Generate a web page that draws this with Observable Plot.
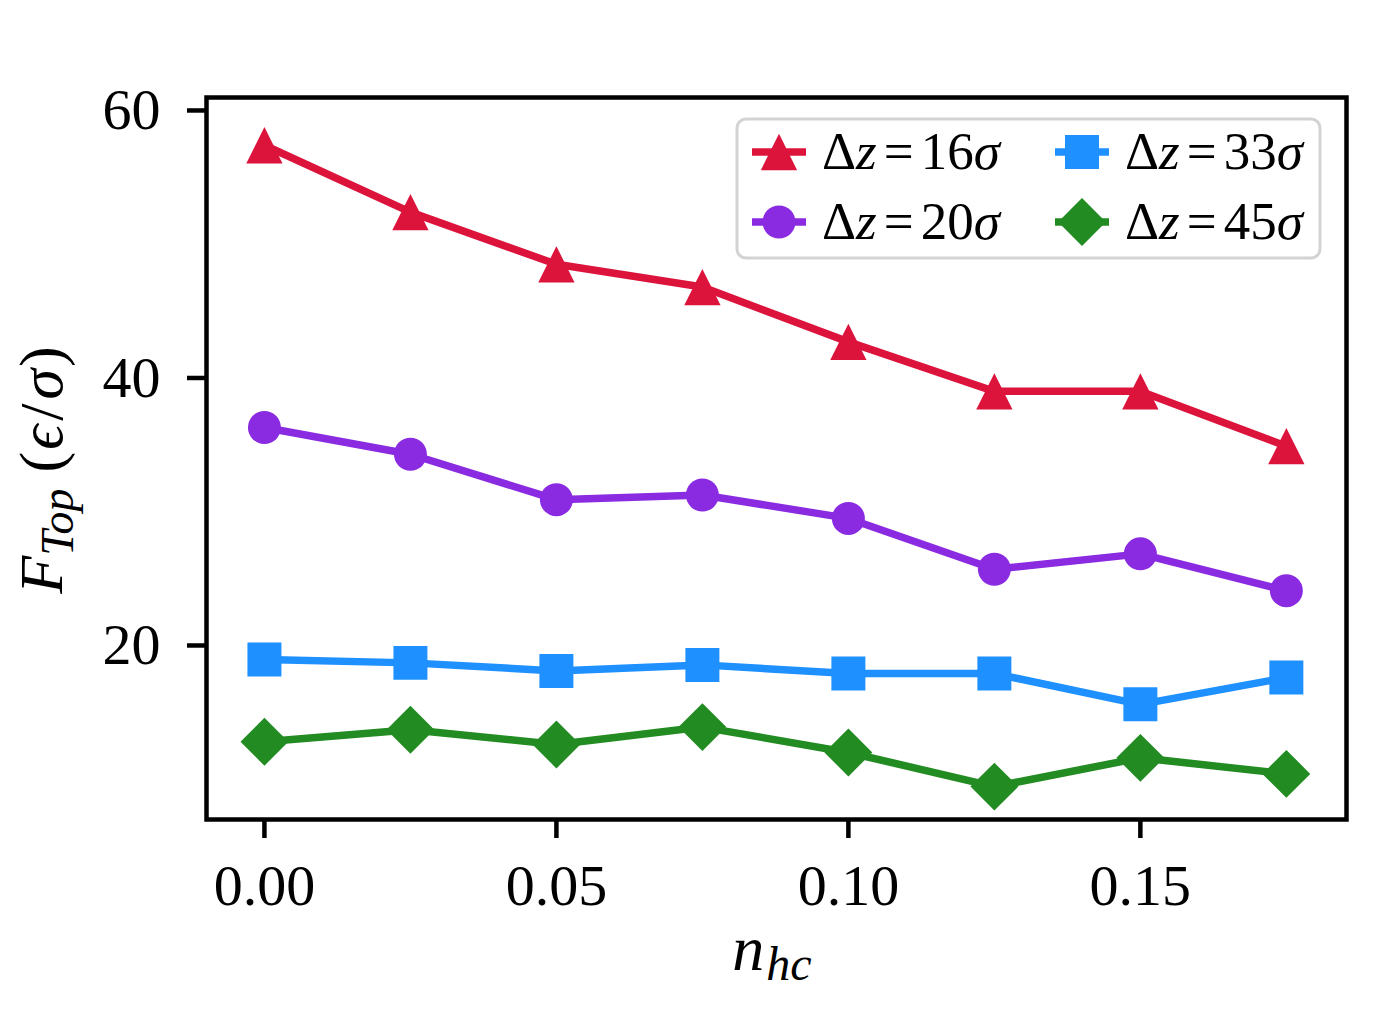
<!DOCTYPE html>
<html><head><meta charset="utf-8">
<script src="https://cdn.jsdelivr.net/npm/d3@7"></script>
<script src="https://cdn.jsdelivr.net/npm/@observablehq/plot@0.6"></script>
<style>
body{margin:0;background:#fff}
#chart{position:relative;width:1379px;height:1014px}
</style>
</head><body><div id="chart"></div>
<script>
// ---- data ----
const nhc = [0, 0.025, 0.05, 0.075, 0.10, 0.125, 0.15, 0.175];
const seriesLabels = ["16", "20", "33", "45"];
const dz16 = [57.4, 52.4, 48.5, 46.8, 42.7, 39.0, 39.0, 34.9];
const dz20 = [36.3, 34.3, 30.9, 31.25, 29.5, 25.7, 26.85, 24.1];
const dz33 = [18.95, 18.7, 18.1, 18.55, 17.9, 17.9, 15.6, 17.6];
const dz45 = [12.8, 13.7, 12.6, 13.9, 12.0, 9.45, 11.6, 10.4];
const xTicks = [0, 0.05, 0.10, 0.15];
const yTicks = [20, 40, 60];
const colors = ["#DC143C", "#8A2BE2", "#1E90FF", "#228B22"];

// ---- marker shapes (matplotlib-like) ----
const rad = s => Math.sqrt(s / Math.PI);
const triSym = {draw(c, s){ const h = rad(s)*1.1; c.moveTo(0,-h); c.lineTo(h,h); c.lineTo(-h,h); c.closePath(); }};
const cirSym = {draw(c, s){ const r = rad(s); c.moveTo(r,0); c.arc(0,0,r,0,2*Math.PI); }};
const sqSym  = {draw(c, s){ const h = rad(s)*1.03; c.rect(-h,-h,2*h,2*h); }};
const diaSym = {draw(c, s){ const h = rad(s)*1.45; c.moveTo(0,-h); c.lineTo(h,0); c.lineTo(0,h); c.lineTo(-h,0); c.closePath(); }};
const symbols = [triSym, cirSym, sqSym, diaSym];
const values = [dz16, dz20, dz33, dz45];
const R = 16.5;
const LW = 7.5;

const series = seriesLabels.map((lab, k) => ({
  lab, color: colors[k], sym: symbols[k],
  data: nhc.map((x, i) => ({x, y: values[k][i]}))
}));

const FONT = "'Liberation Serif', 'DejaVu Serif', serif";

const chart = Plot.plot({
  width: 1379, height: 1014,
  marginLeft: 206, marginRight: 33, marginTop: 97, marginBottom: 195,
  style: {fontFamily: FONT, background: "#fff", color: "#000"},
  x: {domain: [-0.00992, 0.1853]},
  y: {domain: [6.99, 60.97]},
  marks: [
    ...series.flatMap(s => [
      Plot.line(s.data, {x: "x", y: "y", stroke: s.color, strokeWidth: LW, strokeLinejoin: "round"}),
      Plot.dot(s.data, {x: "x", y: "y", symbol: s.sym, r: R, fill: s.color, stroke: "none"})
    ]),
    Plot.frame({stroke: "#000", strokeWidth: 4.5}),
    Plot.axisX({ticks: xTicks, tickFormat: d3.format(".2f"), tickSize: 19, tickPadding: 25,
      fontSize: 58, strokeWidth: 4.5, label: null}),
    Plot.axisY({ticks: yTicks, tickFormat: d => String(d), tickSize: 19, tickPadding: 27,
      fontSize: 58, strokeWidth: 4.5, label: null})
  ]
});
document.getElementById("chart").appendChild(chart);

const svg = d3.select(chart);

// x label: n_hc
const xl = svg.append("text").attr("x", 772).attr("y", 970)
  .attr("text-anchor", "middle").style("font-family", FONT).attr("fill", "#000");
xl.append("tspan").attr("font-size", 64).attr("font-style", "italic").text("n");
xl.append("tspan").attr("font-size", 48).attr("font-style", "italic").attr("dx", 2).attr("dy", 10).text("hc");

// y label: F_Top (ϵ/σ)
const yl = svg.append("text").attr("transform", "translate(62,470) rotate(-90)")
  .attr("text-anchor", "middle").style("font-family", FONT).attr("fill", "#000").attr("font-size", 62);
yl.append("tspan").attr("font-style", "italic").text("F");
yl.append("tspan").attr("font-style", "italic").attr("font-size", 46).attr("dy", 11).text("Top");
yl.append("tspan").attr("dy", -11).attr("dx", 16).text("(");
yl.append("tspan").attr("font-style", "italic").attr("dx", 2).text("\u03F5");
yl.append("tspan").attr("dx", 4).text("/");
yl.append("tspan").attr("font-style", "italic").attr("dx", 4).text("\u03C3");
yl.append("tspan").attr("dx", 2).text(")");

// legend
const lg = svg.append("g").attr("text-anchor", "start");
lg.append("rect").attr("x", 737).attr("y", 119).attr("width", 583).attr("height", 139)
  .attr("rx", 9).attr("fill", "#fff").attr("fill-opacity", 0.85)
  .attr("stroke", "#d3d3d3").attr("stroke-width", 3);
const pos = [[752, 152], [752, 222], [1055, 152], [1055, 222]];
series.forEach((s, k) => {
  const [x0, y0] = pos[k];
  const g = lg.append("g");
  g.append("line").attr("x1", x0).attr("x2", x0 + 54).attr("y1", y0).attr("y2", y0)
    .attr("stroke", s.color).attr("stroke-width", LW);
  g.append("path").attr("transform", `translate(${x0 + 27},${y0})`)
    .attr("d", d3.symbol().type(s.sym).size(Math.PI * R * R)()).attr("fill", s.color);
  const t = g.append("text").attr("x", x0 + 70).attr("y", y0 + 17).attr("text-anchor", "start")
    .style("font-family", FONT).attr("font-size", 53).attr("fill", "#000");
  t.append("tspan").text("\u0394");
  t.append("tspan").attr("font-style", "italic").text("z");
  t.append("tspan").attr("dx", 7).text("=");
  t.append("tspan").attr("dx", 7).text(s.lab);
  t.append("tspan").attr("font-style", "italic").text("\u03C3");
});
</script>
</body></html>
